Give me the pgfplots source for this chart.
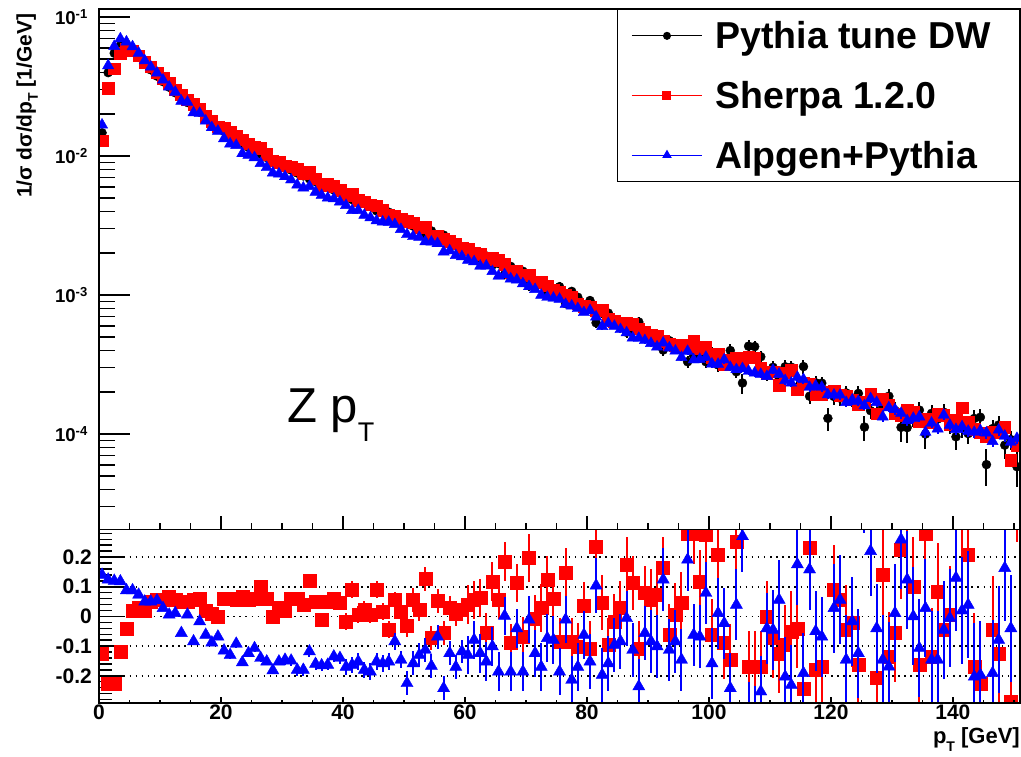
\documentclass[border=0pt]{standalone}
\usepackage{fontspec}
\setmainfont{Liberation Sans}
\usepackage{pgfplots}
\usepackage{pgfplotstable}
\pgfplotsset{compat=1.18}

\pgfplotstableread{
x b s a eb em
0.5 1.469e-2 1.287e-2 1.675e-2 0.012 0.007
1.5 3.981e-2 3.085e-2 4.475e-2 0.008 0.005
2.5 5.495e-2 4.259e-2 6.154e-2 0.008 0.005
3.5 6.237e-2 5.489e-2 6.974e-2 0.008 0.005
4.5 6.095e-2 5.851e-2 6.631e-2 0.008 0.005
5.5 5.623e-2 5.735e-2 6.118e-2 0.008 0.005
6.5 5.129e-2 5.283e-2 5.503e-2 0.008 0.005
7.5 4.624e-2 4.716e-2 4.855e-2 0.008 0.005
8.5 4.169e-2 4.377e-2 4.377e-2 0.008 0.005
9.5 3.758e-2 3.965e-2 3.961e-2 0.008 0.005
10.5 3.428e-2 3.617e-2 3.524e-2 0.010 0.006
11.5 3.126e-2 3.329e-2 3.145e-2 0.010 0.006
12.5 2.851e-2 3.008e-2 2.882e-2 0.010 0.006
13.5 2.630e-2 2.762e-2 2.483e-2 0.010 0.006
14.5 2.427e-2 2.548e-2 2.442e-2 0.010 0.006
15.5 2.239e-2 2.362e-2 2.051e-2 0.010 0.006
16.5 2.065e-2 2.189e-2 2.030e-2 0.010 0.006
17.5 1.905e-2 1.943e-2 1.787e-2 0.010 0.006
18.5 1.758e-2 1.776e-2 1.603e-2 0.010 0.006
19.5 1.622e-2 1.622e-2 1.512e-2 0.010 0.006
20.5 1.507e-2 1.597e-2 1.334e-2 0.013 0.008
21.5 1.406e-2 1.490e-2 1.223e-2 0.013 0.008
22.5 1.315e-2 1.387e-2 1.194e-2 0.013 0.008
23.5 1.233e-2 1.313e-2 1.042e-2 0.013 0.008
24.5 1.159e-2 1.223e-2 1.015e-2 0.013 0.008
25.5 1.091e-2 1.156e-2 9.740e-3 0.013 0.008
26.5 1.030e-2 1.133e-2 8.860e-3 0.013 0.008
27.5 9.750e-3 1.034e-2 8.268e-3 0.013 0.008
28.5 9.247e-3 9.247e-3 7.564e-3 0.013 0.008
29.5 8.770e-3 9.033e-3 7.437e-3 0.013 0.008
30.5 8.337e-3 8.504e-3 7.120e-3 0.019 0.011
31.5 7.925e-3 8.401e-3 6.744e-3 0.019 0.011
32.5 7.551e-3 8.004e-3 6.192e-3 0.019 0.011
33.5 7.194e-3 7.482e-3 5.899e-3 0.019 0.011
34.5 6.855e-3 7.678e-3 6.046e-3 0.019 0.011
35.5 6.546e-3 6.873e-3 5.499e-3 0.019 0.011
36.5 6.252e-3 6.189e-3 5.220e-3 0.019 0.011
37.5 5.970e-3 6.269e-3 4.997e-3 0.019 0.011
38.5 5.702e-3 6.044e-3 4.932e-3 0.019 0.011
39.5 5.445e-3 5.690e-3 4.683e-3 0.019 0.011
40.5 5.321e-3 5.231e-3 4.416e-3 0.028 0.017
41.5 4.853e-3 5.290e-3 4.062e-3 0.028 0.017
42.5 4.797e-3 4.826e-3 4.068e-3 0.028 0.017
43.5 4.581e-3 4.686e-3 3.756e-3 0.028 0.017
44.5 4.426e-3 4.453e-3 3.603e-3 0.028 0.017
45.5 4.036e-3 4.399e-3 3.423e-3 0.028 0.017
46.5 3.990e-3 4.058e-3 3.360e-3 0.028 0.017
47.5 3.945e-3 3.767e-3 3.345e-3 0.028 0.017
48.5 3.516e-3 3.713e-3 3.221e-3 0.028 0.017
49.5 3.475e-3 3.534e-3 2.968e-3 0.028 0.017
50.5 3.516e-3 3.411e-3 2.725e-3 0.040 0.024
51.5 3.133e-3 3.308e-3 2.638e-3 0.040 0.024
52.5 2.992e-3 3.061e-3 2.603e-3 0.040 0.024
53.5 2.729e-3 3.073e-3 2.421e-3 0.040 0.024
54.5 2.891e-3 2.680e-3 2.408e-3 0.040 0.024
55.5 2.518e-3 2.651e-3 2.347e-3 0.040 0.024
56.5 2.698e-3 2.547e-3 2.045e-3 0.040 0.024
57.5 2.377e-3 2.448e-3 2.082e-3 0.040 0.024
58.5 2.323e-3 2.342e-3 1.928e-3 0.040 0.024
59.5 2.143e-3 2.192e-3 1.890e-3 0.040 0.024
60.5 2.047e-3 2.129e-3 1.781e-3 0.060 0.036
61.5 1.888e-3 1.994e-3 1.739e-3 0.060 0.036
62.5 1.845e-3 1.959e-3 1.616e-3 0.060 0.036
63.5 1.910e-3 1.807e-3 1.620e-3 0.060 0.036
64.5 1.644e-3 1.838e-3 1.478e-3 0.060 0.036
65.5 1.683e-3 1.777e-3 1.370e-3 0.060 0.036
66.5 1.400e-3 1.660e-3 1.403e-3 0.060 0.036
67.5 1.607e-3 1.462e-3 1.308e-3 0.060 0.036
68.5 1.337e-3 1.488e-3 1.284e-3 0.060 0.036
69.5 1.483e-3 1.382e-3 1.207e-3 0.060 0.036
70.5 1.164e-3 1.393e-3 1.151e-3 0.075 0.045
71.5 1.253e-3 1.242e-3 1.098e-3 0.075 0.045
72.5 1.202e-3 1.236e-3 9.980e-4 0.075 0.045
73.5 1.040e-3 1.169e-3 9.640e-4 0.075 0.045
74.5 1.033e-3 1.095e-3 9.510e-4 0.075 0.045
75.5 1.148e-3 1.052e-3 9.340e-4 0.075 0.045
76.5 8.670e-4 9.962e-4 8.575e-4 0.075 0.045
77.5 1.062e-3 9.730e-4 8.350e-4 0.075 0.045
78.5 9.638e-4 8.665e-4 8.000e-4 0.075 0.045
79.5 7.980e-4 8.270e-4 7.490e-4 0.075 0.045
80.5 9.120e-4 8.140e-4 7.730e-4 0.085 0.051
81.5 6.310e-4 7.800e-4 6.970e-4 0.085 0.051
82.5 7.413e-4 7.760e-4 5.950e-4 0.085 0.051
83.5 7.413e-4 6.700e-4 6.240e-4 0.085 0.051
84.5 6.607e-4 6.490e-4 5.970e-4 0.085 0.051
85.5 6.166e-4 6.340e-4 5.650e-4 0.085 0.051
86.5 5.395e-4 6.340e-4 5.360e-4 0.085 0.051
87.5 5.546e-4 6.170e-4 4.920e-4 0.085 0.051
88.5 6.397e-4 5.710e-4 4.890e-4 0.085 0.051
89.5 4.989e-4 5.380e-4 4.710e-4 0.085 0.051
90.5 4.898e-4 5.170e-4 4.490e-4 0.095 0.057
91.5 4.721e-4 5.070e-4 4.240e-4 0.095 0.057
92.5 4.018e-4 4.670e-4 4.520e-4 0.095 0.057
93.5 4.699e-4 4.410e-4 4.170e-4 0.095 0.057
94.5 4.325e-4 4.350e-4 3.960e-4 0.095 0.057
95.5 4.169e-4 4.360e-4 3.560e-4 0.095 0.057
96.5 3.311e-4 4.240e-4 3.940e-4 0.095 0.057
97.5 3.648e-4 4.670e-4 3.420e-4 0.095 0.057
98.5 3.698e-4 4.130e-4 3.450e-4 0.095 0.057
99.5 3.311e-4 4.220e-4 3.570e-4 0.095 0.057
100.5 3.802e-4 3.570e-4 3.200e-4 0.105 0.063
101.5 3.141e-4 3.790e-4 3.180e-4 0.105 0.063
102.5 3.499e-4 3.180e-4 3.420e-4 0.105 0.063
103.5 3.990e-4 3.410e-4 3.020e-4 0.105 0.063
104.5 2.805e-4 3.510e-4 2.910e-4 0.105 0.063
105.5 2.328e-4 3.120e-4 2.960e-4 0.170 0.063
106.5 4.285e-4 3.560e-4 2.830e-4 0.105 0.063
107.5 4.256e-4 3.530e-4 2.750e-4 0.105 0.063
108.5 3.597e-4 2.990e-4 2.690e-4 0.105 0.063
109.5 2.710e-4 2.710e-4 2.600e-4 0.105 0.063
110.5 3.020e-4 2.800e-4 2.880e-4 0.115 0.069
111.5 2.553e-4 2.240e-4 2.700e-4 0.115 0.069
112.5 3.048e-4 2.760e-4 2.430e-4 0.115 0.069
113.5 3.027e-4 2.880e-4 2.330e-4 0.115 0.069
114.5 2.178e-4 2.090e-4 2.560e-4 0.115 0.069
115.5 3.055e-4 2.320e-4 2.470e-4 0.115 0.069
116.5 1.871e-4 2.300e-4 2.170e-4 0.115 0.069
117.5 2.339e-4 1.920e-4 2.220e-4 0.115 0.069
118.5 2.323e-4 1.930e-4 2.170e-4 0.115 0.069
119.5 1.297e-4 2.010e-4 1.920e-4 0.190 0.069
120.5 1.862e-4 2.030e-4 1.910e-4 0.125 0.075
121.5 1.811e-4 1.910e-4 1.910e-4 0.125 0.075
122.5 1.977e-4 1.890e-4 1.690e-4 0.125 0.075
123.5 1.795e-4 1.760e-4 1.760e-4 0.125 0.075
124.5 1.959e-4 1.640e-4 1.720e-4 0.125 0.075
125.5 1.122e-4 1.690e-4 1.600e-4 0.200 0.075
126.5 1.472e-4 1.940e-4 1.800e-4 0.125 0.075
127.5 1.762e-4 1.400e-4 1.690e-4 0.125 0.075
128.5 1.563e-4 1.780e-4 1.330e-4 0.125 0.075
129.5 1.871e-4 1.620e-4 1.550e-4 0.125 0.075
130.5 1.479e-4 1.400e-4 1.500e-4 0.140 0.084
131.5 1.117e-4 1.370e-4 1.410e-4 0.220 0.084
132.5 1.112e-4 1.500e-4 1.250e-4 0.220 0.084
133.5 1.300e-4 1.430e-4 1.300e-4 0.140 0.084
134.5 1.486e-4 1.240e-4 1.330e-4 0.140 0.084
135.5 1.000e-4 1.280e-4 1.030e-4 0.220 0.084
136.5 1.409e-4 1.220e-4 1.200e-4 0.140 0.084
137.5 1.282e-4 1.390e-4 1.090e-4 0.140 0.084
138.5 1.435e-4 1.370e-4 1.370e-4 0.140 0.084
139.5 1.164e-4 1.170e-4 1.160e-4 0.140 0.084
140.5 9.550e-5 1.270e-4 1.080e-4 0.200 0.093
141.5 1.107e-4 1.550e-4 1.130e-4 0.155 0.093
142.5 1.007e-4 1.220e-4 1.050e-4 0.155 0.093
143.5 1.294e-4 1.080e-4 1.030e-4 0.155 0.093
144.5 1.321e-4 1.020e-4 1.060e-4 0.155 0.093
145.5 6.026e-5 9.640e-5 1.020e-4 0.300 0.093
146.5 1.094e-4 1.040e-4 8.850e-5 0.155 0.093
147.5 1.161e-4 1.020e-4 1.070e-4 0.155 0.093
148.5 8.318e-5 1.120e-4 9.670e-5 0.200 0.093
149.5 9.120e-5 6.500e-5 8.760e-5 0.155 0.093
150.5 5.820e-5 8.320e-5 9.310e-5 0.280 0.093
}\maintab

\pgfplotstableread{
x rs ra er
0.5 -0.124 0.140 0.012
1.5 -0.225 0.124 0.008
2.5 -0.225 0.120 0.008
3.5 -0.120 0.118 0.008
4.5 -0.040 0.088 0.008
5.5 0.020 0.088 0.008
6.5 0.030 0.073 0.008
7.5 0.020 0.050 0.008
8.5 0.050 0.050 0.008
9.5 0.055 0.054 0.008
10.5 0.055 0.028 0.010
11.5 0.065 0.006 0.010
12.5 0.055 0.011 0.010
13.5 0.050 -0.056 0.010
14.5 0.050 0.006 0.010
15.5 0.055 -0.084 0.010
16.5 0.060 -0.017 0.010
17.5 0.020 -0.062 0.010
18.5 0.010 -0.088 0.010
19.5 0.000 -0.068 0.010
20.5 0.060 -0.115 0.013
21.5 0.060 -0.130 0.013
22.5 0.055 -0.092 0.013
23.5 0.065 -0.155 0.013
24.5 0.055 -0.124 0.013
25.5 0.060 -0.107 0.013
26.5 0.100 -0.140 0.013
27.5 0.060 -0.152 0.013
28.5 0.000 -0.182 0.013
29.5 0.030 -0.152 0.013
30.5 0.020 -0.146 0.019
31.5 0.060 -0.149 0.019
32.5 0.060 -0.180 0.019
33.5 0.040 -0.180 0.019
34.5 0.120 -0.118 0.019
35.5 0.050 -0.160 0.019
36.5 -0.010 -0.165 0.019
37.5 0.050 -0.163 0.019
38.5 0.060 -0.135 0.019
39.5 0.045 -0.140 0.019
40.5 -0.017 -0.170 0.028
41.5 0.090 -0.163 0.028
42.5 0.006 -0.152 0.028
43.5 0.023 -0.180 0.028
44.5 0.006 -0.186 0.028
45.5 0.090 -0.152 0.028
46.5 0.017 -0.158 0.028
47.5 -0.045 -0.152 0.028
48.5 0.056 -0.084 0.028
49.5 0.017 -0.146 0.028
50.5 -0.030 -0.225 0.040
51.5 0.056 -0.158 0.040
52.5 0.023 -0.130 0.040
53.5 0.126 -0.113 0.040
54.5 -0.073 -0.167 0.040
55.5 0.053 -0.068 0.040
56.5 -0.056 -0.242 0.040
57.5 0.030 -0.124 0.040
58.5 0.008 -0.170 0.040
59.5 0.023 -0.118 0.040
60.5 0.040 -0.130 0.065
61.5 0.056 -0.079 0.065
62.5 0.062 -0.124 0.065
63.5 -0.054 -0.152 0.065
64.5 0.118 -0.101 0.065
65.5 0.056 -0.186 0.065
66.5 0.186 0.002 0.065
67.5 -0.090 -0.186 0.065
68.5 0.113 -0.040 0.065
69.5 -0.068 -0.186 0.065
70.5 0.197 -0.011 0.080
71.5 -0.009 -0.124 0.080
72.5 0.028 -0.170 0.080
73.5 0.124 -0.073 0.080
74.5 0.060 -0.079 0.080
75.5 -0.084 -0.186 0.080
76.5 0.149 -0.011 0.080
77.5 -0.084 -0.214 0.080
78.5 -0.101 -0.170 0.080
79.5 0.036 -0.062 0.080
80.5 -0.107 -0.152 0.092
81.5 0.236 0.104 0.092
82.5 0.047 -0.197 0.092
83.5 -0.096 -0.158 0.092
84.5 -0.017 -0.096 0.092
85.5 0.028 -0.084 0.092
86.5 0.175 -0.006 0.092
87.5 0.113 -0.113 0.092
88.5 -0.107 -0.236 0.092
89.5 0.079 -0.056 0.092
90.5 0.056 -0.084 0.105
91.5 0.073 -0.101 0.105
92.5 0.163 0.124 0.105
93.5 -0.062 -0.113 0.105
94.5 0.006 -0.084 0.105
95.5 0.045 -0.146 0.105
96.5 0.280 0.191 0.105
97.5 0.280 -0.062 0.105
98.5 0.118 -0.068 0.105
99.5 0.276 0.079 0.105
100.5 -0.062 -0.158 0.120
101.5 0.208 0.011 0.120
102.5 -0.090 -0.023 0.120
103.5 -0.146 -0.242 0.120
104.5 0.253 0.039 0.120
105.5 0.340 0.270 0.120
106.5 -0.170 -0.340 0.120
107.5 -0.170 -0.355 0.120
108.5 -0.170 -0.253 0.120
109.5 0.000 -0.040 0.120
110.5 -0.073 -0.045 0.135
111.5 -0.124 0.056 0.135
112.5 -0.096 -0.203 0.135
113.5 -0.050 -0.231 0.135
114.5 -0.040 0.175 0.135
115.5 -0.242 -0.191 0.135
116.5 0.231 0.158 0.135
117.5 -0.180 -0.050 0.135
118.5 -0.169 -0.068 0.135
119.5 0.550 0.480 0.135
120.5 0.090 0.028 0.150
121.5 0.056 0.056 0.150
122.5 -0.045 -0.146 0.150
123.5 -0.020 -0.017 0.150
124.5 -0.163 -0.124 0.150
125.5 0.510 0.430 0.150
126.5 0.320 0.220 0.150
127.5 -0.208 -0.040 0.150
128.5 0.141 -0.146 0.150
129.5 -0.135 -0.169 0.150
130.5 -0.056 0.011 0.165
131.5 0.225 0.259 0.165
132.5 0.350 0.124 0.165
133.5 0.101 0.000 0.165
134.5 -0.163 -0.107 0.165
135.5 0.280 0.028 0.165
136.5 -0.135 -0.146 0.165
137.5 0.084 -0.146 0.165
138.5 -0.045 -0.045 0.165
139.5 0.006 -0.006 0.165
140.5 0.330 0.130 0.180
141.5 0.400 0.020 0.180
142.5 0.208 0.039 0.180
143.5 -0.169 -0.203 0.180
144.5 -0.225 -0.197 0.180
145.5 0.600 0.700 0.180
146.5 -0.045 -0.191 0.180
147.5 -0.124 -0.079 0.180
148.5 0.350 0.163 0.180
149.5 -0.287 -0.040 0.180
150.5 0.430 0.600 0.180
}\ratiotab

\newcommand{\tickfont}{\fontsize{18.6}{20}\selectfont\bfseries}
\newcommand{\rtickfont}{\fontsize{21}{23}\selectfont\bfseries}

\begin{document}
\begin{tikzpicture}
\useasboundingbox (0pt,0pt) rectangle (1021pt,756pt);
\pgfplotsset{
  rootframe/.style={
    scale only axis, width=921pt, xmin=0, xmax=151,
    axis line style={line width=1.5pt, black},
    every tick/.style={line width=1.5pt, black},
    tick align=inside, tick pos=left,
  },
}
% ---------------- main panel ----------------
\begin{axis}[rootframe,
  at={(99pt,226.5pt)}, anchor=south west, height=520.5pt,
  ymode=log, ymin=2.056e-5, ymax=0.1142,
  xtick=\empty,
  ytick={1e-4,1e-3,1e-2,1e-1},
  yticklabels={10\textsuperscript{-4},10\textsuperscript{-3},10\textsuperscript{-2},10\textsuperscript{-1}},
  minor ytick={3e-5,4e-5,5e-5,6e-5,7e-5,8e-5,9e-5,2e-4,3e-4,4e-4,5e-4,6e-4,7e-4,8e-4,9e-4,2e-3,3e-3,4e-3,5e-3,6e-3,7e-3,8e-3,9e-3,2e-2,3e-2,4e-2,5e-2,6e-2,7e-2,8e-2,9e-2},
  major tick length=31pt, minor tick length=16pt,
  yticklabel style={font=\tickfont, inner sep=0pt, xshift=-11pt},
  ylabel={1/σ dσ/dp\raisebox{-0.3em}{\fontsize{14}{14}\selectfont T} [1/GeV]},
  ylabel style={at={(axis description cs:-0.0731,0.998)}, anchor=base east, font=\fontsize{21}{24}\selectfont\bfseries},
  clip marker paths=true,
  legend cell align=left,
  legend style={at={(rel axis cs:1,1)}, anchor=north east, draw=black, line width=1pt, fill=white,
    font=\fontsize{37.5}{42}\selectfont\bfseries, inner xsep=14pt, inner ysep=10pt, row sep=27pt,
    nodes={inner sep=2pt},
    /tikz/every odd column/.append style={column sep=11pt}},
  legend image code/.code={
    \draw[#1, line width=1pt] (0pt,0pt) -- (70pt,0pt);
    \draw[#1, line width=1pt, only marks] plot coordinates {(35pt,0pt)};
  },
]
\addplot[forget plot, only marks, mark=*, mark size=4.5pt, black,
  error bars/.cd, y dir=both, y explicit relative,
  error bar style={line width=2pt, black}, error mark=none]
  table[x=x, y=b, y error=eb] {\maintab};
\addplot[forget plot, only marks, mark=square*, mark size=5.8pt, red,
  error bars/.cd, y dir=both, y explicit relative,
  error bar style={line width=2pt, red}, error mark=none]
  table[x=x, y=s, y error=em] {\maintab};
\addplot[forget plot, only marks, mark=triangle*, mark size=6.5pt, blue,
  error bars/.cd, y dir=both, y explicit relative,
  error bar style={line width=2pt, blue}, error mark=none]
  table[x=x, y=a, y error=em] {\maintab};
\addlegendimage{black, mark=*, mark size=3.5pt}
\addlegendentry{Pythia tune DW\hspace*{13pt}}
\addlegendimage{red, mark=square*, mark size=4pt}
\addlegendentry{Sherpa 1.2.0}
\addlegendimage{blue, mark=triangle*, mark size=4.5pt}
\addlegendentry{Alpgen+Pythia}
\node[anchor=base west, inner sep=0pt, font=\fontsize{49}{50}\selectfont] at (axis cs:30.8,1.22e-4) {Z p\raisebox{-0.4em}{\fontsize{27}{27}\selectfont T}};
\end{axis}
% x ticks of main panel
\begin{axis}[rootframe,
  at={(99pt,226.5pt)}, anchor=south west, height=520.5pt,
  ymin=0, ymax=1, ytick=\empty,
  xtick={0,20,...,140}, xticklabels={}, minor xtick={5,10,...,150},
  major tick length=13pt, minor tick length=6pt]
\end{axis}
% ---------------- ratio panel ----------------
\begin{axis}[rootframe,
  at={(99pt,53pt)}, anchor=south west, height=173.5pt,
  ymin=-0.2916, ymax=0.2929,
  xtick=\empty,
  ytick={-0.2,-0.1,0,0.1,0.2}, yticklabels={-0.2,-0.1,0,0.1,0.2},
  minor ytick={-0.28,-0.26,-0.24,-0.22,-0.18,-0.16,-0.14,-0.12,-0.08,-0.06,-0.04,-0.02,0.02,0.04,0.06,0.08,0.12,0.14,0.16,0.18,0.22,0.24,0.26,0.28},
  major tick length=26pt, minor tick length=13pt,
  yticklabel style={font=\rtickfont, inner sep=0pt, xshift=-7pt},
  ymajorgrids, major grid style={black, line width=1.5pt, dash pattern=on 1.5pt off 4.6pt},
  clip marker paths=true,
]
\addplot[only marks, mark=square*, mark size=6.5pt, red,
  error bars/.cd, y dir=both, y explicit,
  error bar style={line width=2pt, red}, error mark=none]
  table[x=x, y=rs, y error=er] {\ratiotab};
\addplot[only marks, mark=triangle*, mark size=7pt, blue,
  error bars/.cd, y dir=both, y explicit,
  error bar style={line width=2pt, blue}, error mark=none]
  table[x=x, y=ra, y error=er] {\ratiotab};
\end{axis}
\begin{axis}[rootframe,
  at={(99pt,53pt)}, anchor=south west, height=173.5pt,
  ymin=0, ymax=1, ytick=\empty,
  xtick={0,20,...,140}, xticklabels={0,20,40,60,80,100,120,140},
  minor xtick={5,10,...,150},
  major tick length=6pt, minor tick length=3pt,
  xticklabel style={font=\rtickfont, inner sep=2pt},
  xlabel={p\raisebox{-0.35em}{\fontsize{14}{14}\selectfont T} [GeV]},
  xlabel style={at={(axis description cs:1,-0.236)}, anchor=base east, inner sep=0pt, font=\fontsize{22}{24}\selectfont\bfseries},
]
\end{axis}
\end{tikzpicture}
\end{document}
